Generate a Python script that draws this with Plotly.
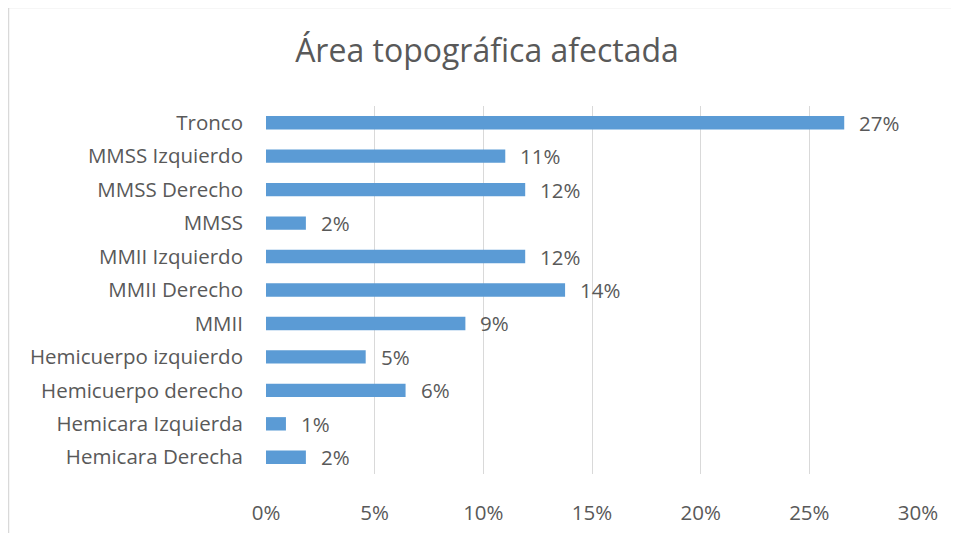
import plotly.graph_objects as go

categories = ["Tronco", "MMSS Izquierdo", "MMSS Derecho", "MMSS", "MMII Izquierdo",
              "MMII Derecho", "MMII", "Hemicuerpo izquierdo", "Hemicuerpo derecho",
              "Hemicara Izquierda", "Hemicara Derecha"]
counts = [58, 24, 26, 4, 26, 30, 20, 10, 14, 2, 4]
total = 218
values = [c / total for c in counts]
tick_vals = [0, 0.05, 0.10, 0.15, 0.20, 0.25, 0.30]
tick_text = ["0%", "5%", "10%", "15%", "20%", "25%", "30%"]

FONT = "Open Sans, sans-serif"
TXT = "#595959"
FS = 20.5

fig = go.Figure()
fig.add_trace(go.Bar(
    x=values, y=categories, orientation="h",
    marker=dict(color="#5b9bd5", line=dict(width=0)),
    hoverinfo="skip",
))

for c, v in zip(categories, values):
    fig.add_annotation(x=v, y=c, xref="x", yref="y", text=f"{v*100:.0f}%",
                       showarrow=False, xanchor="left", xshift=13,
                       font=dict(family=FONT, size=FS, color=TXT))

# outer chart frame (left and top edges visible)
fig.add_shape(type="line", xref="paper", yref="paper",
              x0=-257.5 / 652, x1=-257.5 / 652, y0=-0.5, y1=1 + 98.5 / 368,
              line=dict(color="#d9d9d9", width=1.5))
fig.add_shape(type="line", xref="paper", yref="paper",
              x0=-257.5 / 652, x1=1.5, y0=1 + 98.5 / 368, y1=1 + 98.5 / 368,
              line=dict(color="#d9d9d9", width=1.5))

fig.update_layout(
    width=951, height=525,
    margin=dict(l=258, r=41, t=98, b=59),
    paper_bgcolor="white", plot_bgcolor="white",
    bargap=0.6,
    showlegend=False,
    title=dict(text="Área topográfica afectada", x=479 / 951, xref="container", xanchor="center",
               y=1 - 43 / 525, yref="container", yanchor="middle",
               font=dict(family=FONT, size=32, color=TXT)),
    xaxis=dict(range=[0, 0.30], tickvals=tick_vals, ticktext=tick_text,
               showgrid=True, gridcolor="#d9d9d9", gridwidth=1.3,
               zeroline=False, showline=False, ticks="", automargin=False,
               ticklabelstandoff=24,
               tickfont=dict(family=FONT, size=FS, color=TXT)),
    yaxis=dict(categoryorder="array", categoryarray=categories[::-1],
               showgrid=False, zeroline=False, showline=False, ticks="", automargin=False,
               ticklabelstandoff=22,
               tickfont=dict(family=FONT, size=FS, color=TXT)),
)

fig.write_html("out.html")
